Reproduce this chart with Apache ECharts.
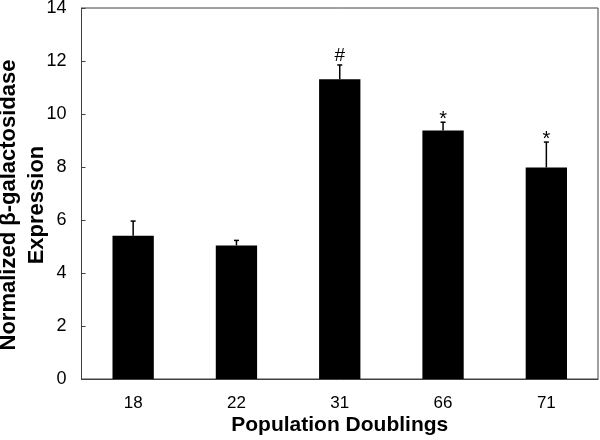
<!DOCTYPE html>
<html><head><meta charset="utf-8">
<script src="https://cdn.jsdelivr.net/npm/echarts@6/dist/echarts.min.js"></script>
<style>html,body{margin:0;padding:0;background:#fff}#c{width:600px;height:440px}</style>
</head><body><div id="c"></div>
<script>
var categories = ['18', '22', '31', '66', '71'];
var means = [5.41, 5.04, 11.31, 9.38, 7.98];
var errors = [0.55, 0.19, 0.54, 0.31, 0.96];
var marks = ['', '', '#', '*', '*'];
var yTicks = [0, 2, 4, 6, 8, 10, 12, 14];

var chart = echarts.init(document.getElementById('c'), null, {renderer: 'canvas'});
var font = 'Liberation Sans, Arial, sans-serif';
var errData = categories.map(function (c, i) { return [i, means[i], means[i] + errors[i], marks[i]]; });

chart.setOption({
  animation: false,
  backgroundColor: '#fff',
  grid: {left: 81.5, right: 2, top: 8, bottom: 61, containLabel: false, outerBoundsMode: 'none',
    show: true, borderColor: '#404040', borderWidth: 1, backgroundColor: 'transparent'},
  xAxis: {
    type: 'category', data: categories,
    name: 'Population Doublings', nameLocation: 'middle', nameGap: 36, nameMoveOverlap: false,
    nameTextStyle: {fontFamily: font, fontSize: 21, fontWeight: 'bold', color: '#000'},
    axisLine: {lineStyle: {color: '#404040', width: 1}},
    axisTick: {inside: true, length: 4, alignWithLabel: false, lineStyle: {color: '#404040'}},
    axisLabel: {fontFamily: font, fontSize: 17, color: '#000', margin: 16}
  },
  yAxis: {
    type: 'value', min: yTicks[0], max: yTicks[yTicks.length - 1], interval: 2,
    name: 'Normalized \u03b2-galactosidase\nExpression', nameLocation: 'middle', nameGap: 30.5, nameMoveOverlap: false,
    nameTextStyle: {fontFamily: font, fontSize: 22, fontWeight: 'bold', color: '#000', lineHeight: 28, padding: [0, 23, 0, 0]},
    axisLine: {show: true, lineStyle: {color: '#404040', width: 1}},
    axisTick: {show: true, inside: true, length: 4, lineStyle: {color: '#404040'}},
    splitLine: {show: false},
    axisLabel: {fontFamily: font, fontSize: 18, color: '#000', margin: 15}
  },
  series: [
    {type: 'bar', data: means, barWidth: '40%', itemStyle: {color: '#000'}},
    {
      type: 'custom', data: errData, z: 5,
      renderItem: function (params, api) {
        var x = api.value(0);
        var lo = api.coord([x, api.value(1)]);
        var hi = api.coord([x, api.value(2)]);
        var cw = 2.5;
        var children = [
          {type: 'line', shape: {x1: lo[0], y1: lo[1], x2: hi[0], y2: hi[1]}, style: {stroke: '#000', lineWidth: 1.5}},
          {type: 'line', shape: {x1: hi[0] - cw, y1: hi[1], x2: hi[0] + cw, y2: hi[1]}, style: {stroke: '#000', lineWidth: 1.5}}
        ];
        var m = api.value(3);
        if (m) {
          var isHash = m === '#';
          children.push({type: 'text', style: {text: m, x: hi[0], y: hi[1] - (isHash ? 9.5 : 2.5), align: 'center', verticalAlign: 'middle',
            fontFamily: font, fontSize: isHash ? 19 : 20, fill: '#000'}});
        }
        return {type: 'group', children: children};
      }
    }
  ]
});
</script></body></html>
